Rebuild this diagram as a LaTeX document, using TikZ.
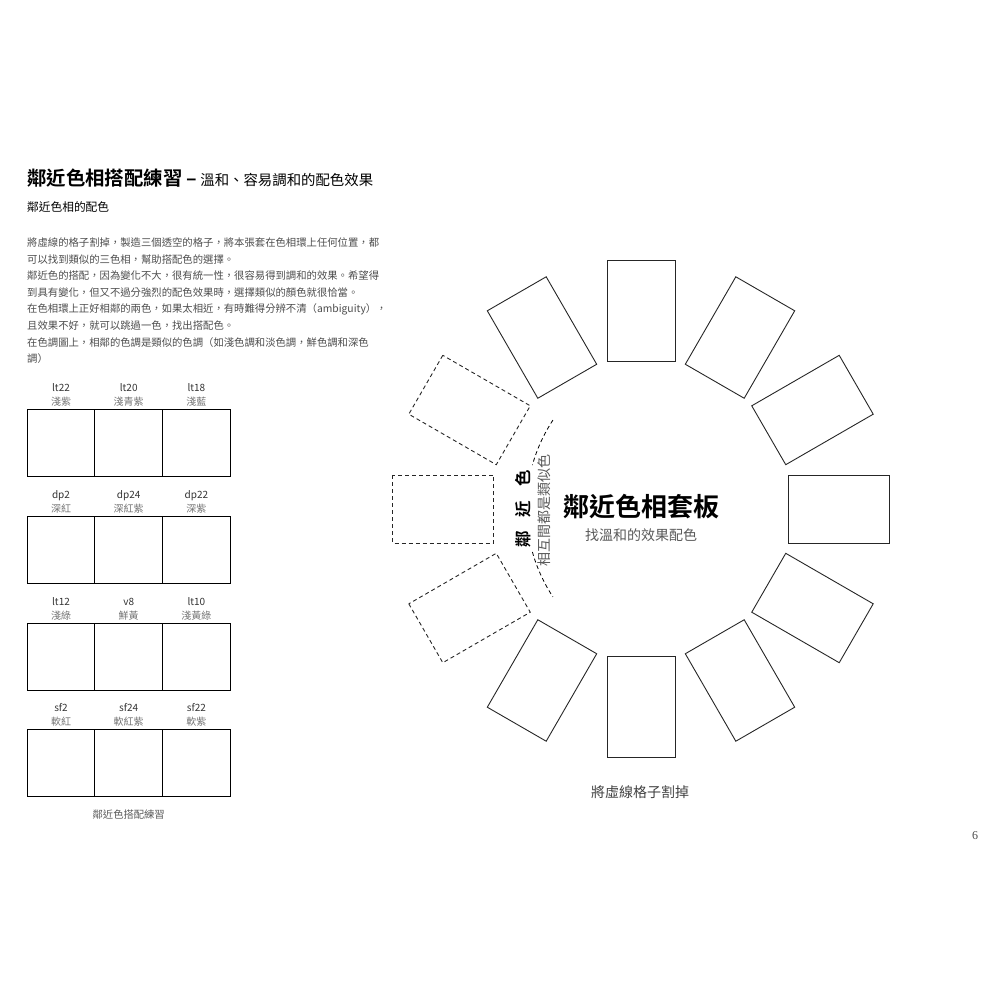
\documentclass[tikz,border=0pt]{standalone}
\usepackage{fontspec}
\setmainfont{Noto Sans CJK TC}[BoldFont={Noto Sans CJK TC Bold}]
\newfontfamily\pagefont{Liberation Serif}
\usetikzlibrary{positioning}

\tikzset{
  cell/.style={draw, line width=1.2pt, minimum width=67.7pt, minimum height=67.7pt, inner sep=0pt, outer sep=0pt},
  celllabel/.style={align=center, inner sep=0pt, font=\fontsize{10}{13.5}\selectfont, text=black!80},
  slot/.style={draw=black!85, line width=0.9pt, minimum width=68pt, minimum height=101pt, inner sep=0pt},
  cutslot/.style={slot, dashed, dash pattern=on 4pt off 3pt},
}

\begin{document}
\begin{tikzpicture}[x=1pt, y=-1pt]
\useasboundingbox (0,0) rectangle (1000,1000);

% Titel
\node[anchor=west, inner sep=0pt] (titel) at (27,178) {\fontsize{19.4}{22}\selectfont\bfseries 鄰近色相搭配練習 –\hspace{3pt}\mdseries\fontsize{14.4}{17}\selectfont 溫和、容易調和的配色效果};
\node[anchor=west, inner sep=0pt] (untertitel) at (27,207) {\fontsize{11.7}{14}\selectfont 鄰近色相的配色};

% Text
\node[anchor=north west, inner sep=0pt, align=left, text=black!70, font=\fontsize{10.35}{16.5}\selectfont] (absatz) at (27,238) {%
將虛線的格子割掉，製造三個透空的格子，將本張套在色相環上任何位置，都\\
可以找到類似的三色相，幫助搭配色的選擇。\\
鄰近色的搭配，因為變化不大，很有統一性，很容易得到調和的效果。希望得\\
到具有變化，但又不過分強烈的配色效果時，選擇類似的顏色就很恰當。\\
在色相環上正好相鄰的兩色，如果太相近，有時難得分辨不清（ambiguity），\\
且效果不好，就可以跳過一色，找出搭配色。\\
在色調圖上，相鄰的色調是類似的色調（如淺色調和淡色調，鮮色調和深色\\
調）};

% Raster
\foreach \r/\y/\ca/\na/\cb/\nb/\cc/\nc in {1/443/lt22/淺紫/lt20/淺青紫/lt18/淺藍,
    2/550/dp2/深紅/dp24/深紅紫/dp22/深紫,
    3/657/lt12/淺綠/v8/鮮黃/lt10/淺黃綠,
    4/763/sf2/軟紅/sf24/軟紅紫/sf22/軟紫} {
  \node[cell] (c\r1) at (61,\y) {};
  \node[cell, right=0pt of c\r1] (c\r2) {};
  \node[cell, right=0pt of c\r2] (c\r3) {};
  \node[celllabel, above=3pt of c\r1] (l\r1) {\ca\\{\color{black!55}\na}};
  \node[celllabel, above=3pt of c\r2] (l\r2) {\cb\\{\color{black!55}\nb}};
  \node[celllabel, above=3pt of c\r3] (l\r3) {\cc\\{\color{black!55}\nc}};
}
\node[text=black!65, font=\fontsize{10.3}{12}\selectfont, below=9pt of c42] (rasterlabel) {鄰近色搭配練習};

% Farbkreis
\coordinate (ctr) at (641,509);
\foreach \a in {0,30,60,90,120,240,270,300,330}
  \node[slot, rotate=\a-90] (s\a) at ({641+198*cos(\a)},{509-198*sin(\a)}) {};
\foreach \a in {150,180,210}
  \node[cutslot, rotate=\a-90] (s\a) at ({641+198*cos(\a)},{509-198*sin(\a)}) {}; % Schnitt

% Bogen
\draw[dashed, dash pattern=on 4pt off 3pt, line width=0.8pt] plot[domain=146.6:164.3, samples=20, smooth] ({687+160.6*cos(\x)},{508.5-160.6*sin(\x)});
\draw[dashed, dash pattern=on 4pt off 3pt, line width=0.8pt] plot[domain=195.7:213.4, samples=20, smooth] ({687+160.6*cos(\x)},{508.5-160.6*sin(\x)});

% Mitte
\node[font=\fontsize{26}{30}\selectfont\bfseries] (kopf) at (641,507) {鄰近色相套板};
\node[text=black!65, font=\fontsize{14}{16}\selectfont] (kopfsub) at (641,535) {找溫和的效果配色};
\node[rotate=90, font=\fontsize{16.5}{20}\selectfont\bfseries] (nah) at (523,509) {鄰\hspace{14pt}近\hspace{14pt}色};
\node[rotate=90, text=black!65, font=\fontsize{14}{16}\selectfont] (nahsub) at (544,510) {相互間都是類似色};

% Unten
\node[text=black!75, font=\fontsize{14}{16}\selectfont] (schnitt) at (640,792) {將虛線格子割掉};
\node[text=black!70, font=\pagefont\fontsize{12}{14}\selectfont] (seite) at (975,836) {6};
\end{tikzpicture}
\end{document}
